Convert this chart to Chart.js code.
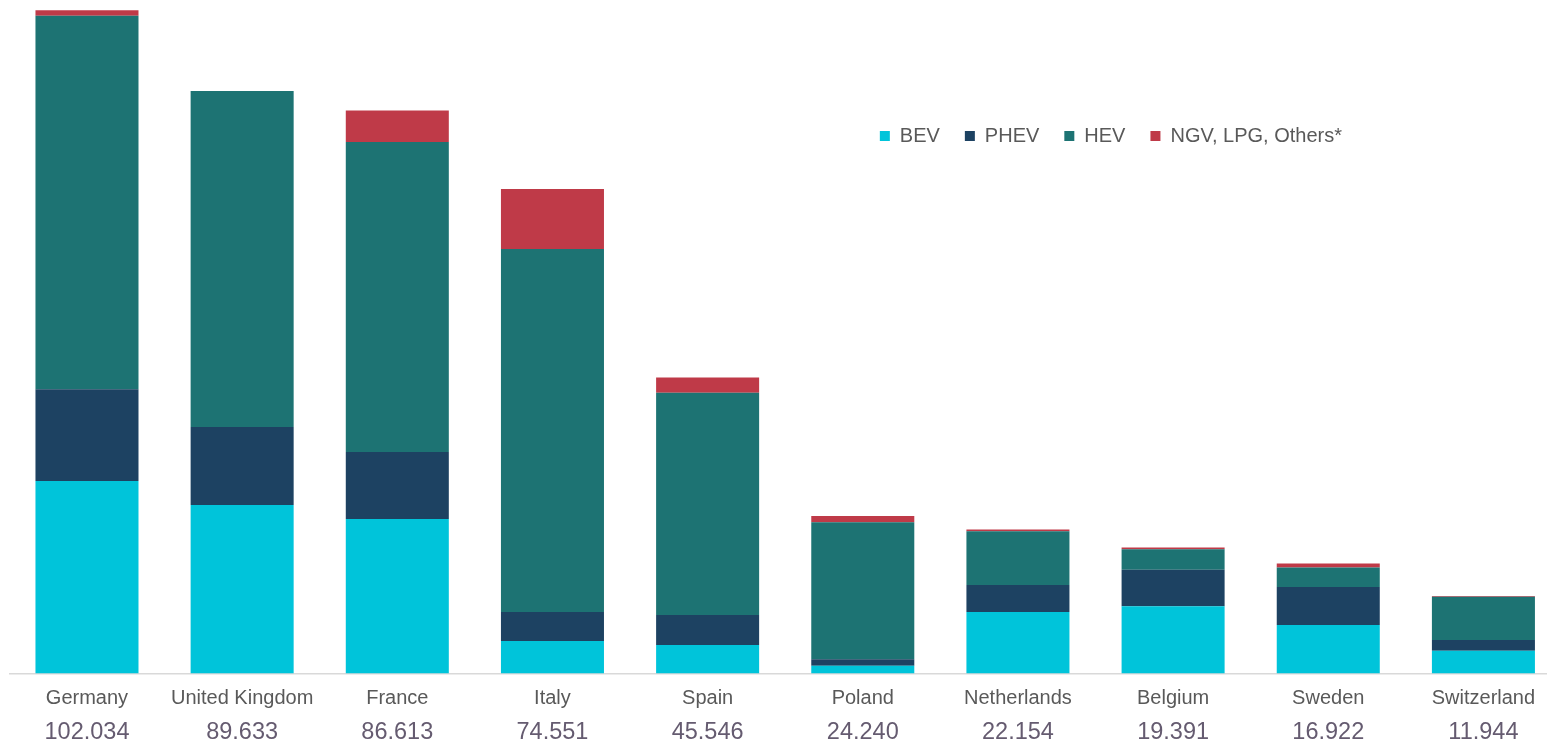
<!DOCTYPE html>
<html><head><meta charset="utf-8">
<script src="https://cdn.jsdelivr.net/npm/chart.js@4.4.1/dist/chart.umd.min.js"></script>
<style>
html,body{margin:0;padding:0;background:#fff;overflow:hidden;width:1547px;height:744px}
canvas{display:block}
</style></head>
<body>
<canvas id="c" width="1561" height="744" style="width:1561px;height:744px"></canvas>
<script>
const categories = ['Germany','United Kingdom','France','Italy','Spain','Poland','Netherlands','Belgium','Sweden','Switzerland'];
const totalLabels = ['102.034','89.633','86.613','74.551','45.546','24.240','22.154','19.391','16.922','11.944'];
const bev    = [29.62, 25.92, 23.77, 5.00, 4.38, 1.20, 9.46, 10.34, 7.46, 3.51];
const phev   = [14.10, 12.00, 10.31, 4.46, 4.62, 0.98, 4.16, 5.63, 5.85, 1.64];
const hev    = [57.48, 51.71, 47.69, 55.85, 34.20, 21.08, 8.26, 3.14, 3.00, 6.67];
const others = [0.83, 0.00, 4.84, 9.24, 2.35, 0.98, 0.27, 0.28, 0.60, 0.12];
const seriesNames = ['BEV','PHEV','HEV','NGV, LPG, Others*'];
const seriesColors = ['#00C4DA','#1D4262','#1D7373','#BF3A48'];

const FONT = "'Liberation Sans', Arial, sans-serif";
const LEGEND_RIGHT = 1342 + 25;
const LEGEND_TOP = 101;

const legendMover = {
  id: 'legendMover',
  beforeLayout(chart) {
    const lg = chart.legend;
    if (!lg || lg._noSpace) return;
    const origFit = lg.fit.bind(lg);
    lg.fit = function () { origFit(); this._realHeight = this.height; this.height = 0; };
    lg._noSpace = true;
  },
  afterLayout(chart) {
    const lg = chart.legend;
    if (!lg) return;
    const h = lg._realHeight || 40;
    lg.left = LEGEND_RIGHT - lg.width;
    lg.right = LEGEND_RIGHT;
    lg.top = LEGEND_TOP;
    lg.bottom = LEGEND_TOP + h;
    lg.height = h;
  }
};

const seriesData = [bev, phev, hev, others];
new Chart(document.getElementById('c'), {
  type: 'bar',
  data: {
    labels: categories,
    datasets: seriesNames.map((name, i) => ({
      label: name,
      data: seriesData[i],
      backgroundColor: seriesColors[i],
      borderWidth: 0,
      barPercentage: 0.664,
      categoryPercentage: 1.0,
      xAxisID: 'x',
      yAxisID: 'y'
    }))
  },
  options: {
    responsive: false,
    animation: false,
    devicePixelRatio: 1,
    layout: { padding: { left: 9.4, right: 0, top: 0, bottom: 0 } },
    plugins: {
      tooltip: { enabled: false },
      legend: {
        position: 'top',
        align: 'end',
        labels: {
          boxWidth: 10,
          boxHeight: 10,
          padding: 25,
          color: '#595959',
          font: { family: FONT, size: 20 }
        }
      }
    },
    scales: {
      x: {
        stacked: true,
        weight: 0,
        offset: true,
        grid: { display: true, color: 'rgba(0,0,0,0)', drawTicks: false, drawOnChartArea: false },
        border: { display: true, color: '#D9D9D9', width: 1.5 },
        ticks: { color: '#595959', padding: 14.5, maxRotation: 0, autoSkip: false,
                 font: { family: FONT, size: 20, lineHeight: 1 } },
        afterFit: (s) => { s.height = 35; }
      },
      x2: {
        type: 'category',
        position: 'bottom',
        labels: totalLabels,
        weight: 1,
        offset: true,
        grid: { display: false, drawTicks: false },
        border: { display: false },
        ticks: { color: '#655B70', padding: 12.75, maxRotation: 0, autoSkip: false,
                 font: { family: FONT, size: 23.5, lineHeight: 1 } },
        afterFit: (s) => { s.height = 35.5; }
      },
      y: {
        stacked: true,
        display: false,
        min: 0,
        max: 103.615
      }
    }
  },
  plugins: [legendMover]
});
</script>
</body></html>
